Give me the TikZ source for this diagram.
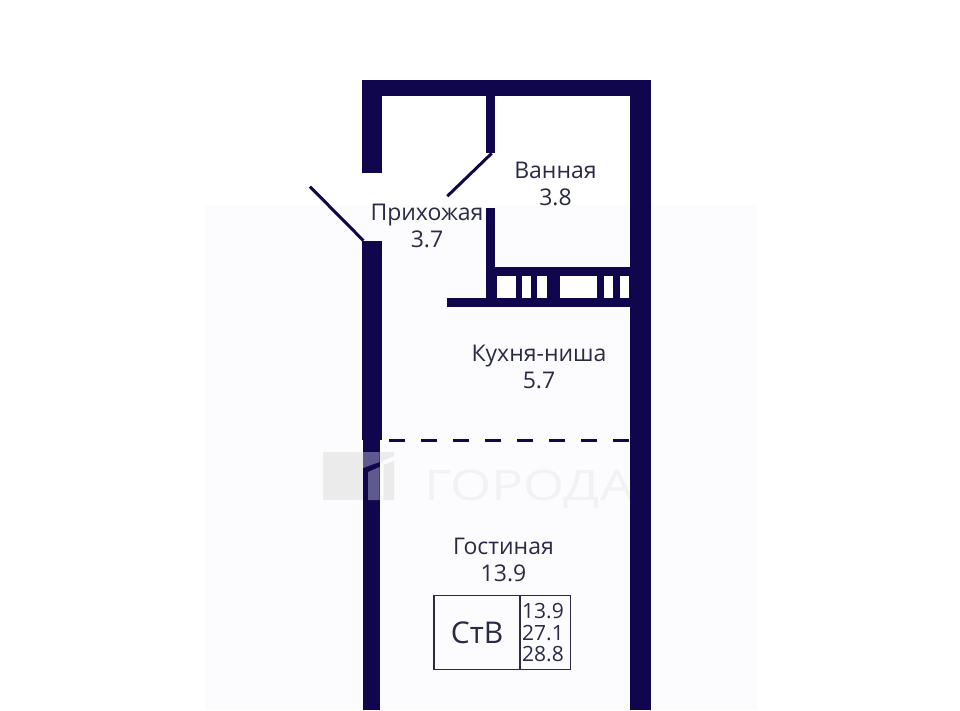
\documentclass[tikz,border=0pt]{standalone}
\usepackage{fontspec}
\setmainfont{Open Sans}
\definecolor{wall}{HTML}{10064D}
\definecolor{ink}{HTML}{2A2A44}
\definecolor{bgtint}{HTML}{FCFCFE}
\definecolor{overlay}{HTML}{5F5A8E}
\tikzset{
  wallfill/.style={fill=wall,draw=none},
  doorline/.style={draw=wall,line width=3pt},
  roomlabel/.style={text=ink,align=center,inner sep=0pt,font=\fontsize{23}{27}\selectfont},
  cellline/.style={draw=ink,line width=1.5pt},
  glassfill/.style={fill=white,draw=none},
  markfill/.style={fill=black!8,draw=none},
  overfill/.style={fill=overlay,draw=none}
}
\begin{document}
\begin{tikzpicture}[x=1pt,y=-1pt]
\useasboundingbox (0,0) rectangle (960,710);
\fill[white] (0,0) rectangle (960,710);
\fill[bgtint] (205,205) rectangle (757,710);
% watermark
\fill[markfill] (323,452) rectangle (363,500);
\fill[markfill] (380,452) -- (394,452) -- (394,456) -- (380,462) -- cycle;
\fill[markfill] (383.5,465) -- (394,461) -- (394,500) -- (383.5,500) -- cycle;
\node[inner sep=0pt,anchor=base west,text=black!5,xscale=1.26,font=\fontsize{42}{42}\selectfont] (mark) at (424,500) {ГОРОДА};
% walls
\fill[wallfill] (361.5,80) rectangle (650.7,96);
\fill[wallfill] (361.5,80) rectangle (381.7,172.7);
\fill[wallfill] (361.5,240.7) rectangle (381.5,440);
\fill[wallfill] (363,440) rectangle (379.5,710);
\fill[wallfill] (630,80) rectangle (650.7,710);
\fill[wallfill] (486,96) rectangle (495.3,153.3);
\fill[wallfill] (486,208) rectangle (495.3,300);
\fill[wallfill] (486,266.7) rectangle (632,306.7);
\fill[wallfill] (447.3,297.7) rectangle (632,306.7);
\foreach \a/\b in {496.7/516,522.3/530.7,537.3/547.3,560/596.7,604/613.3,620/629.3}
  \fill[glassfill] (\a,275.7) rectangle (\b,297.7);
% watermark over the wall
\fill[overfill] (363,452) -- (379.5,452) -- (379.5,462) -- (363,468) -- cycle;
\fill[overfill] (368,472) -- (379.5,467) -- (379.5,500) -- (368,500) -- cycle;
% doors
\coordinate (d1a) at (491.7,153.3);
\coordinate (d1b) at (447.3,196.2);
\coordinate (d2a) at (363.5,240.7);
\coordinate (d2b) at (310,186.7);
\draw[doorline] (d1a) -- (d1b);
\draw[doorline] (d2a) -- (d2b);
% zone divider
\coordinate (za) at (389,440.7);
\coordinate (zb) at (630,440.7);
\draw[draw=wall,line width=2.6pt,dash pattern=on 16pt off 16pt] (za) -- (zb);
% labels
\node[roomlabel] (bath) at (555.5,184) {Ванная\\3.8};
\node[roomlabel] (hall) at (427,226) {Прихожая\\3.7};
\node[roomlabel] (kitchen) at (539,367) {Кухня-ниша\\5.7};
\node[roomlabel] (living) at (503.5,560) {Гостиная\\13.9};
% table
\draw[cellline] (434,595.7) rectangle (570.7,669.3);
\coordinate (ca) at (520,595.7);
\coordinate (cb) at (520,669.3);
\draw[cellline] (ca) -- (cb);
\node[inner sep=0pt,text=ink,font=\fontsize{30}{30}\selectfont] (type) at (477,633) {СтВ};
\node[inner sep=0pt,text=ink,align=left,anchor=west,font=\fontsize{21}{21.5}\selectfont] (nums) at (522,633) {13.9\\27.1\\28.8};
\end{tikzpicture}
\end{document}
